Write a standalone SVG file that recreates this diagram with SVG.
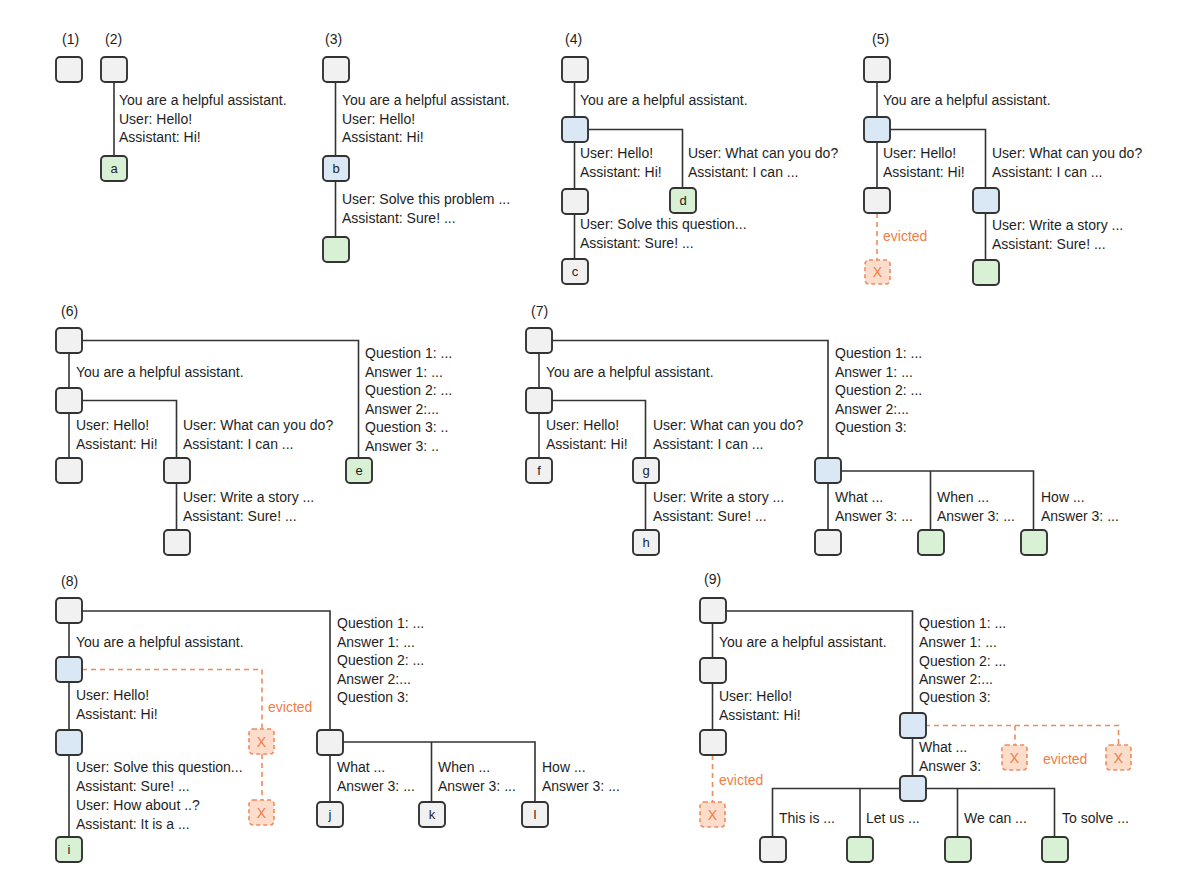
<svg xmlns="http://www.w3.org/2000/svg" width="1187" height="875" viewBox="0 0 1187 875">
<style>
text{font-family:"Liberation Sans",Arial,sans-serif;font-size:14px;fill:#1e1e1e}
.lbl{font-size:14px}
.n rect{stroke:#333;stroke-width:1.9}
.g{fill:#f1f1f1}
.b{fill:#dae7f4}
.gr{fill:#d8f0d4}
.x rect{fill:#fcdccb;stroke:#f08a5d;stroke-width:1.6;stroke-dasharray:4 3}
.x text{fill:#f07d45;font-size:14px;text-anchor:middle}
.ch{font-size:13px;text-anchor:middle}
.ev{fill:#f07d45}
.c path{fill:none;stroke:#333;stroke-width:1.6}
.c path.d{stroke:#f08a5d;stroke-dasharray:5 4;stroke-width:1.6}
</style>
<rect width="1187" height="875" fill="#fff"/>
<g id="connectors" class="c">
<path d="M114 82V156"/>
<path d="M335.5 82V237"/>
<path d="M574.5 82V259"/>
<path d="M587 129.5H682.5V188"/>
<path d="M877 82V188"/>
<path d="M890 129.5H985.5V260"/>
<path class="d" d="M877 213V260"/>
<path d="M69 353V458"/>
<path d="M82 340.5H358.5V458"/>
<path d="M82 400.5H176.5V530"/>
<path d="M539 353V458"/>
<path d="M552 340.5H828V530"/>
<path d="M552 400.5H645.5V530"/>
<path d="M841 471H1033.5V530"/>
<path d="M930.5 471V530"/>
<path d="M69 623V837"/>
<path d="M82 611H330V802"/>
<path d="M343 742H535V802"/>
<path d="M431.5 742V802"/>
<path class="d" d="M82 669.5H262V729"/>
<path class="d" d="M262 754V800"/>
<path d="M712.5 623V730"/>
<path d="M725 611H912.5V776"/>
<path d="M772.5 837V788.5H1054.5V837"/>
<path d="M860 788.5V837"/>
<path d="M957.5 788.5V837"/>
<path class="d" d="M712.5 755V802"/>
<path class="d" d="M925 725.5H1118.5V745"/>
<path class="d" d="M1015 725.5V745"/>
</g>

<g id="panel1">
<text class="lbl" x="62" y="44">(1)</text>
<g id="p1-root" class="n"><rect class="g" x="56" y="57" width="26" height="25" rx="4"/></g>
</g>

<g id="panel2">
<text class="lbl" x="105" y="44">(2)</text>
<g id="p2-root" class="n"><rect class="g" x="101" y="57" width="26" height="25" rx="4"/></g>
<g id="p2-a" class="n"><rect class="gr" x="101" y="156" width="26" height="25" rx="4"/><text class="ch" x="114" y="173">a</text></g>
<text x="119" y="105">You are a helpful assistant.</text>
<text x="119" y="123.5">User: Hello!</text>
<text x="119" y="142">Assistant: Hi!</text>
</g>

<g id="panel3">
<text class="lbl" x="325" y="44">(3)</text>
<g id="p3-root" class="n"><rect class="g" x="323" y="57" width="26" height="25" rx="4"/></g>
<g id="p3-b" class="n"><rect class="b" x="323" y="156" width="26" height="25" rx="4"/><text class="ch" x="336" y="173">b</text></g>
<g id="p3-leaf" class="n"><rect class="gr" x="323" y="237" width="26" height="25" rx="4"/></g>
<text x="342" y="105">You are a helpful assistant.</text>
<text x="342" y="123.5">User: Hello!</text>
<text x="342" y="142">Assistant: Hi!</text>
<text x="342" y="204">User: Solve this problem ...</text>
<text x="342" y="222.5">Assistant: Sure! ...</text>
</g>

<g id="panel4">
<text class="lbl" x="565" y="44">(4)</text>
<g id="p4-root" class="n"><rect class="g" x="562" y="57" width="26" height="25" rx="4"/></g>
<g id="p4-sys" class="n"><rect class="b" x="562" y="117" width="26" height="25" rx="4"/></g>
<g id="p4-hello" class="n"><rect class="g" x="562" y="189" width="26" height="25" rx="4"/></g>
<g id="p4-c" class="n"><rect class="g" x="562" y="259" width="26" height="25" rx="4"/><text class="ch" x="575" y="276">c</text></g>
<g id="p4-d" class="n"><rect class="gr" x="670" y="188" width="26" height="25" rx="4"/><text class="ch" x="683" y="205">d</text></g>
<text x="580" y="105">You are a helpful assistant.</text>
<text x="580" y="158">User: Hello!</text>
<text x="580" y="177">Assistant: Hi!</text>
<text x="688" y="158">User: What can you do?</text>
<text x="688" y="177">Assistant: I can ...</text>
<text x="580" y="229">User: Solve this question...</text>
<text x="580" y="248">Assistant: Sure! ...</text>
</g>

<g id="panel5">
<text class="lbl" x="872" y="44">(5)</text>
<g id="p5-root" class="n"><rect class="g" x="864" y="57" width="26" height="25" rx="4"/></g>
<g id="p5-sys" class="n"><rect class="b" x="864" y="117" width="26" height="25" rx="4"/></g>
<g id="p5-hello" class="n"><rect class="g" x="864" y="188" width="26" height="25" rx="4"/></g>
<g id="p5-x" class="x"><rect x="865" y="260" width="25" height="24" rx="4"/><text x="877.5" y="277">X</text></g>
<g id="p5-what" class="n"><rect class="b" x="973" y="188" width="26" height="25" rx="4"/></g>
<g id="p5-story" class="n"><rect class="gr" x="973" y="260" width="26" height="25" rx="4"/></g>
<text x="883" y="105">You are a helpful assistant.</text>
<text x="883" y="158">User: Hello!</text>
<text x="883" y="177">Assistant: Hi!</text>
<text x="992" y="158">User: What can you do?</text>
<text x="992" y="177">Assistant: I can ...</text>
<text class="ev" x="883" y="241">evicted</text>
<text x="992" y="230">User: Write a story ...</text>
<text x="992" y="249">Assistant: Sure! ...</text>
</g>

<g id="panel6">
<text class="lbl" x="61" y="316">(6)</text>
<g id="p6-root" class="n"><rect class="g" x="56" y="328" width="26" height="25" rx="4"/></g>
<g id="p6-sys" class="n"><rect class="g" x="56" y="388" width="26" height="25" rx="4"/></g>
<g id="p6-hello" class="n"><rect class="g" x="56" y="458" width="26" height="25" rx="4"/></g>
<g id="p6-what" class="n"><rect class="g" x="164" y="458" width="26" height="25" rx="4"/></g>
<g id="p6-story" class="n"><rect class="g" x="164" y="530" width="26" height="25" rx="4"/></g>
<g id="p6-e" class="n"><rect class="gr" x="346" y="458" width="26" height="25" rx="4"/><text class="ch" x="359" y="475">e</text></g>
<text x="76" y="377">You are a helpful assistant.</text>
<text x="76" y="430">User: Hello!</text>
<text x="76" y="449">Assistant: Hi!</text>
<text x="183" y="430">User: What can you do?</text>
<text x="183" y="449">Assistant: I can ...</text>
<text x="183" y="502">User: Write a story ...</text>
<text x="183" y="521">Assistant: Sure! ...</text>
<text x="365" y="358">Question 1: ...</text>
<text x="365" y="377">Answer 1: ...</text>
<text x="365" y="395">Question 2: ...</text>
<text x="365" y="414">Answer 2:...</text>
<text x="365" y="432">Question 3: ..</text>
<text x="365" y="451">Answer 3: ..</text>
</g>

<g id="panel7">
<text class="lbl" x="531" y="316">(7)</text>
<g id="p7-root" class="n"><rect class="g" x="526" y="328" width="26" height="25" rx="4"/></g>
<g id="p7-sys" class="n"><rect class="g" x="526" y="388" width="26" height="25" rx="4"/></g>
<g id="p7-f" class="n"><rect class="g" x="526" y="458" width="26" height="25" rx="4"/><text class="ch" x="539" y="475">f</text></g>
<g id="p7-g" class="n"><rect class="g" x="633" y="458" width="26" height="25" rx="4"/><text class="ch" x="646" y="475">g</text></g>
<g id="p7-h" class="n"><rect class="g" x="633" y="530" width="26" height="25" rx="4"/><text class="ch" x="646" y="547">h</text></g>
<g id="p7-q3" class="n"><rect class="b" x="815" y="458" width="26" height="25" rx="4"/></g>
<g id="p7-what" class="n"><rect class="g" x="815" y="530" width="26" height="25" rx="4"/></g>
<g id="p7-when" class="n"><rect class="gr" x="918" y="530" width="26" height="25" rx="4"/></g>
<g id="p7-how" class="n"><rect class="gr" x="1021" y="530" width="26" height="25" rx="4"/></g>
<text x="546" y="377">You are a helpful assistant.</text>
<text x="546" y="430">User: Hello!</text>
<text x="546" y="449">Assistant: Hi!</text>
<text x="653" y="430">User: What can you do?</text>
<text x="653" y="449">Assistant: I can ...</text>
<text x="653" y="502">User: Write a story ...</text>
<text x="653" y="521">Assistant: Sure! ...</text>
<text x="835" y="358">Question 1: ...</text>
<text x="835" y="377">Answer 1: ...</text>
<text x="835" y="395">Question 2: ...</text>
<text x="835" y="414">Answer 2:...</text>
<text x="835" y="432">Question 3:</text>
<text x="835" y="502">What ...</text>
<text x="835" y="521">Answer 3: ...</text>
<text x="937" y="502">When ...</text>
<text x="937" y="521">Answer 3: ...</text>
<text x="1041" y="502">How ...</text>
<text x="1041" y="521">Answer 3: ...</text>
</g>

<g id="panel8">
<text class="lbl" x="61" y="586">(8)</text>
<g id="p8-root" class="n"><rect class="g" x="56" y="598" width="26" height="25" rx="4"/></g>
<g id="p8-sys" class="n"><rect class="b" x="56" y="657" width="26" height="25" rx="4"/></g>
<g id="p8-hello" class="n"><rect class="b" x="56" y="730" width="26" height="25" rx="4"/></g>
<g id="p8-i" class="n"><rect class="gr" x="56" y="837" width="26" height="25" rx="4"/><text class="ch" x="69" y="854">i</text></g>
<g id="p8-x1" class="x"><rect x="249" y="729" width="25" height="25" rx="4"/><text x="261.5" y="746.5">X</text></g>
<g id="p8-x2" class="x"><rect x="249" y="800" width="25" height="25" rx="4"/><text x="261.5" y="817.5">X</text></g>
<g id="p8-q3" class="n"><rect class="g" x="317" y="730" width="26" height="25" rx="4"/></g>
<g id="p8-j" class="n"><rect class="g" x="317" y="802" width="26" height="25" rx="4"/><text class="ch" x="330" y="819">j</text></g>
<g id="p8-k" class="n"><rect class="g" x="419" y="802" width="26" height="25" rx="4"/><text class="ch" x="432" y="819">k</text></g>
<g id="p8-l" class="n"><rect class="g" x="522" y="802" width="26" height="25" rx="4"/><text class="ch" x="535" y="819">l</text></g>
<text x="76" y="647">You are a helpful assistant.</text>
<text x="76" y="700">User: Hello!</text>
<text x="76" y="719">Assistant: Hi!</text>
<text class="ev" x="268" y="712">evicted</text>
<text x="76" y="772">User: Solve this question...</text>
<text x="76" y="791">Assistant: Sure! ...</text>
<text x="76" y="810">User: How about ..?</text>
<text x="76" y="829">Assistant: It is a ...</text>
<text x="337" y="628">Question 1: ...</text>
<text x="337" y="647">Answer 1: ...</text>
<text x="337" y="665">Question 2: ...</text>
<text x="337" y="684">Answer 2:...</text>
<text x="337" y="702">Question 3:</text>
<text x="337" y="772">What ...</text>
<text x="337" y="791">Answer 3: ...</text>
<text x="438" y="772">When ...</text>
<text x="438" y="791">Answer 3: ...</text>
<text x="542" y="772">How ...</text>
<text x="542" y="791">Answer 3: ...</text>
</g>

<g id="panel9">
<text class="lbl" x="704" y="584">(9)</text>
<g id="p9-root" class="n"><rect class="g" x="700" y="598" width="26" height="25" rx="4"/></g>
<g id="p9-sys" class="n"><rect class="g" x="700" y="658" width="26" height="25" rx="4"/></g>
<g id="p9-hello" class="n"><rect class="g" x="700" y="730" width="26" height="25" rx="4"/></g>
<g id="p9-x" class="x"><rect x="700" y="802" width="25" height="25" rx="4"/><text x="712.5" y="819.5">X</text></g>
<g id="p9-q3" class="n"><rect class="b" x="900" y="713" width="26" height="25" rx="4"/></g>
<g id="p9-what" class="n"><rect class="b" x="900" y="776" width="26" height="25" rx="4"/></g>
<g id="p9-xa" class="x"><rect x="1002" y="745" width="25" height="25" rx="4"/><text x="1014.5" y="762.5">X</text></g>
<g id="p9-xb" class="x"><rect x="1106" y="745" width="25" height="25" rx="4"/><text x="1118.5" y="762.5">X</text></g>
<g id="p9-this" class="n"><rect class="g" x="760" y="837" width="26" height="25" rx="4"/></g>
<g id="p9-let" class="n"><rect class="gr" x="847" y="837" width="26" height="25" rx="4"/></g>
<g id="p9-we" class="n"><rect class="gr" x="945" y="837" width="26" height="25" rx="4"/></g>
<g id="p9-solve" class="n"><rect class="gr" x="1042" y="837" width="26" height="25" rx="4"/></g>
<text x="719" y="647">You are a helpful assistant.</text>
<text x="719" y="701">User: Hello!</text>
<text x="719" y="720">Assistant: Hi!</text>
<text class="ev" x="719" y="785">evicted</text>
<text x="919" y="628">Question 1: ...</text>
<text x="919" y="647">Answer 1: ...</text>
<text x="919" y="666">Question 2: ...</text>
<text x="919" y="684">Answer 2:...</text>
<text x="919" y="702">Question 3:</text>
<text x="919" y="752">What ...</text>
<text x="919" y="771">Answer 3:</text>
<text class="ev" x="1043" y="764">evicted</text>
<text x="779" y="823">This is ...</text>
<text x="866" y="823">Let us ...</text>
<text x="964" y="823">We can ...</text>
<text x="1062" y="823">To solve ...</text>
</g>
</svg>
